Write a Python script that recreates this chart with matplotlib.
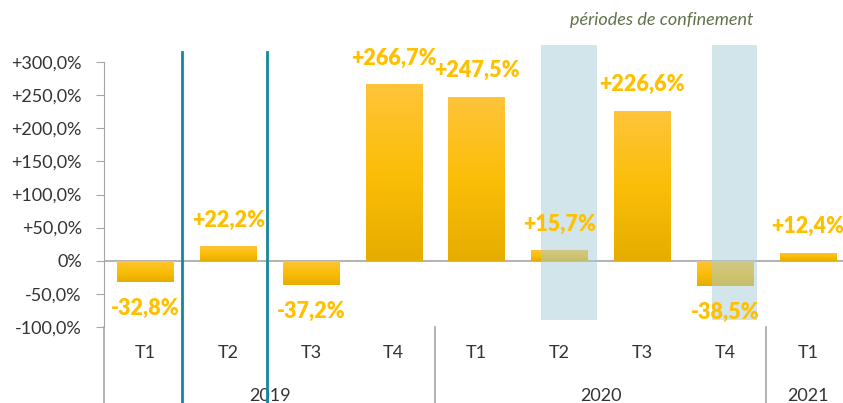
import matplotlib.pyplot as plt
import matplotlib.transforms as mtransforms
import matplotlib.colors as mcolors
import numpy as np

# donnees
trimestres = ["T1", "T2", "T3", "T4", "T1", "T2", "T3", "T4", "T1"]
valeurs = [-32.8, 22.2, -37.2, 266.7, 247.5, 15.7, 226.6, -38.5, 12.4]
etiquettes = ["-32,8%", "+22,2%", "-37,2%", "+266,7%", "+247,5%",
              "+15,7%", "+226,6%", "-38,5%", "+12,4%"]
annees = ["2019", "2020", "2021"]
annees_centre = [1.5, 5.5, 8.0]
separateurs = [3.5, 7.5]
lignes_bleues = [0.44, 1.47]
confinements = [(4.78, 5.45), (6.84, 7.39)]
yticks = [-100, -50, 0, 50, 100, 150, 200, 250, 300]
ytick_labels = ["-100,0%", "-50,0%", "0%", "+50,0%", "+100,0%",
                "+150,0%", "+200,0%", "+250,0%", "+300,0%"]

orange = "#FFC000"
gris = "#333333"
gris_axe = "#a6a6a6"

plt.rcParams['font.family'] = ['Lato', 'DejaVu Sans']

fig = plt.figure(figsize=(8.43, 4.03), dpi=100)
ax = fig.add_axes([104/843, 76/403, 739/843, 265/403])

x = np.arange(len(valeurs))
bars = ax.bar(x, valeurs, width=0.68, color='none', zorder=2)

# degrade sur les barres
cmap = mcolors.LinearSegmentedColormap.from_list("g", ["#E6AD00", "#FBBE08", "#FFC43A"])
grad = np.linspace(0, 1, 100).reshape(-1, 1)
for b in bars:
    x0, y0 = b.get_x(), b.get_y()
    w, h = b.get_width(), b.get_height()
    im = ax.imshow(grad, cmap=cmap, origin='lower', aspect='auto',
                   extent=[x0, x0 + w, min(y0, y0 + h), max(y0, y0 + h)], zorder=2)
    im.set_clip_path(b)

ax.set_xlim(-0.5, -0.5 + 739/82.8)
ax.set_ylim(-100, 300)

# periodes de confinement
for a, b in confinements:
    ax.fill_between([a, b], -89, 325, color="#a5cdd9", alpha=0.5,
                    lw=0, zorder=3, clip_on=False)

ax.axhline(0, color=gris_axe, lw=1.2, zorder=1)

for i, v in enumerate(valeurs):
    off = 26 if v > 0 else -26
    ax.text(i, v + off / 0.6633, etiquettes[i], ha='center', va='center',
            color=orange, fontsize=15.5, fontweight='heavy', zorder=4)

# axes
for s in ['top', 'right', 'bottom']:
    ax.spines[s].set_visible(False)
ax.spines['left'].set_color(gris_axe)
ax.spines['left'].set_bounds(-100, 300)
ax.set_yticks(yticks)
ax.set_yticklabels(ytick_labels)
ax.tick_params(axis='y', length=6, color=gris_axe, pad=10, labelsize=13,
               labelcolor=gris)
ax.set_xticks([])

trans = mtransforms.blended_transform_factory(ax.transData, ax.transAxes)
ax.plot([-0.5, -0.5], [0, -0.29], color=gris_axe, lw=1.2, transform=trans, clip_on=False)
for s in separateurs:
    ax.plot([s, s], [0, -0.29], color=gris_axe, lw=1.2, transform=trans, clip_on=False)
for s in lignes_bleues:
    ax.plot([s, s], [1.038, -0.29], color="#13879a", lw=2, transform=trans,
            clip_on=False, zorder=5)

for i, t in enumerate(trimestres):
    ax.text(i, -0.098, t, transform=trans, ha='center', va='center',
            fontsize=13, color=gris)
for a, c in zip(annees, annees_centre):
    ax.text(c, -0.262, a, transform=trans, ha='center', va='center',
            fontsize=13, color=gris)

fig.text(662/843, 1 - 20/403, "périodes de confinement", ha='center', va='center',
         fontsize=13, style='italic', color="#62734a")

fig.savefig("out.png", dpi=100)
